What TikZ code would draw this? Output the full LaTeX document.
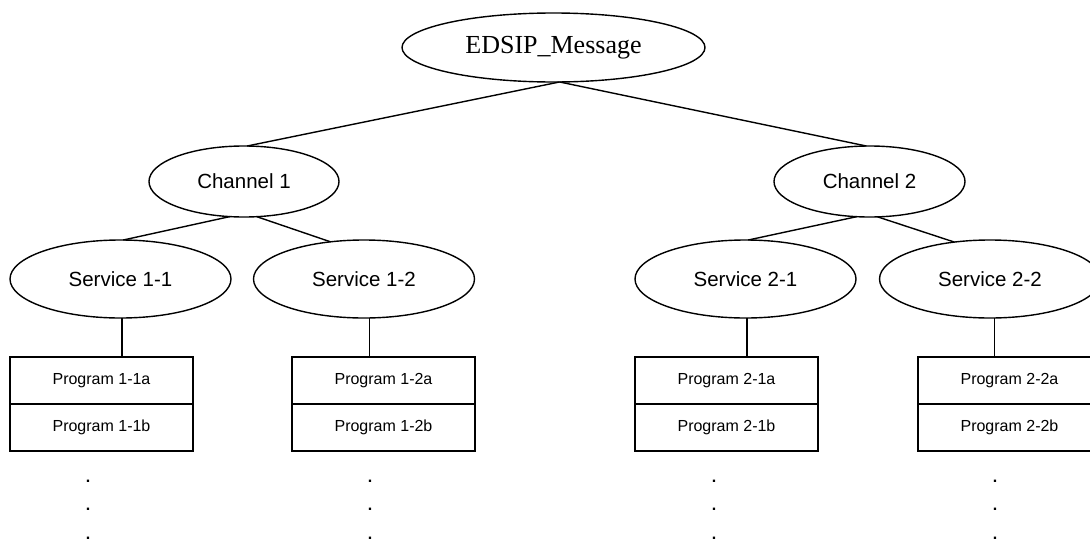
\documentclass[tikz,border=0pt]{standalone}
\usepackage{fontspec}
\setmainfont{Liberation Serif}
\setsansfont{Liberation Sans}
\usetikzlibrary{shapes.geometric}
\tikzset{
  ell/.style={ellipse, draw, line width=1.4pt, inner sep=0pt, outer sep=0pt,
    font=\sffamily\fontsize{20.5}{24}\selectfont},
  rootell/.style={ell, font=\rmfamily\fontsize{26}{30}\selectfont},
  progbox/.style={rectangle, draw, line width=1.4pt, minimum width=183pt,
    minimum height=47pt, inner sep=0pt, outer sep=0pt,
    font=\sffamily\fontsize{16}{19}\selectfont},
  link/.style={line width=1.4pt},
  dotnode/.style={inner sep=0pt, anchor=base, font=\sffamily\bfseries\fontsize{16}{19}\selectfont}
}
\begin{document}
\begin{tikzpicture}[x=1pt,y=-1pt]
\useasboundingbox (0,0) rectangle (1090,541);
\clip (0,0) rectangle (1090,541);

% root
\node[rootell, minimum width=303pt, minimum height=69pt] (E) at (553.5,47.5) {EDSIP\_Message};

% channels
\node[ell, minimum width=190pt, minimum height=71pt] (C1) at (244,181.5) {Channel 1};
\node[ell, minimum width=191pt, minimum height=71pt] (C2) at (869.5,181.5) {Channel 2};

% services
\node[ell, minimum width=221pt, minimum height=78pt] (S11) at (120.5,279) {Service 1-1};
\node[ell, minimum width=221pt, minimum height=78pt] (S12) at (364,279) {Service 1-2};
\node[ell, minimum width=221pt, minimum height=78pt] (S21) at (745.5,279) {Service 2-1};
\node[ell, minimum width=221pt, minimum height=78pt] (S22) at (990,279) {Service 2-2};

% program boxes
\node[progbox] (B11a) at (101.5,380.5) {Program 1-1a};
\node[progbox] (B11b) at (101.5,427.5) {Program 1-1b};
\node[progbox] (B12a) at (383.5,380.5) {Program 1-2a};
\node[progbox] (B12b) at (383.5,427.5) {Program 1-2b};
\node[progbox] (B21a) at (726.5,380.5) {Program 2-1a};
\node[progbox] (B21b) at (726.5,427.5) {Program 2-1b};
\node[progbox] (B22a) at (1009.5,380.5) {Program 2-2a};
\node[progbox] (B22b) at (1009.5,427.5) {Program 2-2b};

% dots
\foreach \nm/\xx in {D11/88, D12/370, D21/714, D22/995}{
  \node[dotnode] (\nm a) at (\xx,482) {.};
  \node[dotnode] (\nm b) at (\xx,510.5) {.};
  \node[dotnode] (\nm c) at (\xx,539) {.};
}

% connectors
\draw[link] (E.280.7) -- (C1.85.2);
\draw[link] (E.280.7) -- (C2.95.6);
\draw[link] (C1.248.5) -- (S11.86.3);
\draw[link] (C1.290.1) -- (S12.132.5);
\draw[link] (C2.250.6) -- (S21.86.3);
\draw[link] (C2.283.5) -- (S22.134.8);
\draw[link] (S11.272.2) -- (S11.272.2 |- B11a.north);
\draw[link] (S12.278.8) -- (S12.278.8 |- B12a.north);
\draw[link] (S21.272.2) -- (S21.272.2 |- B21a.north);
\draw[link] (S22.277.3) -- (S22.277.3 |- B22a.north);
\end{tikzpicture}
\end{document}
